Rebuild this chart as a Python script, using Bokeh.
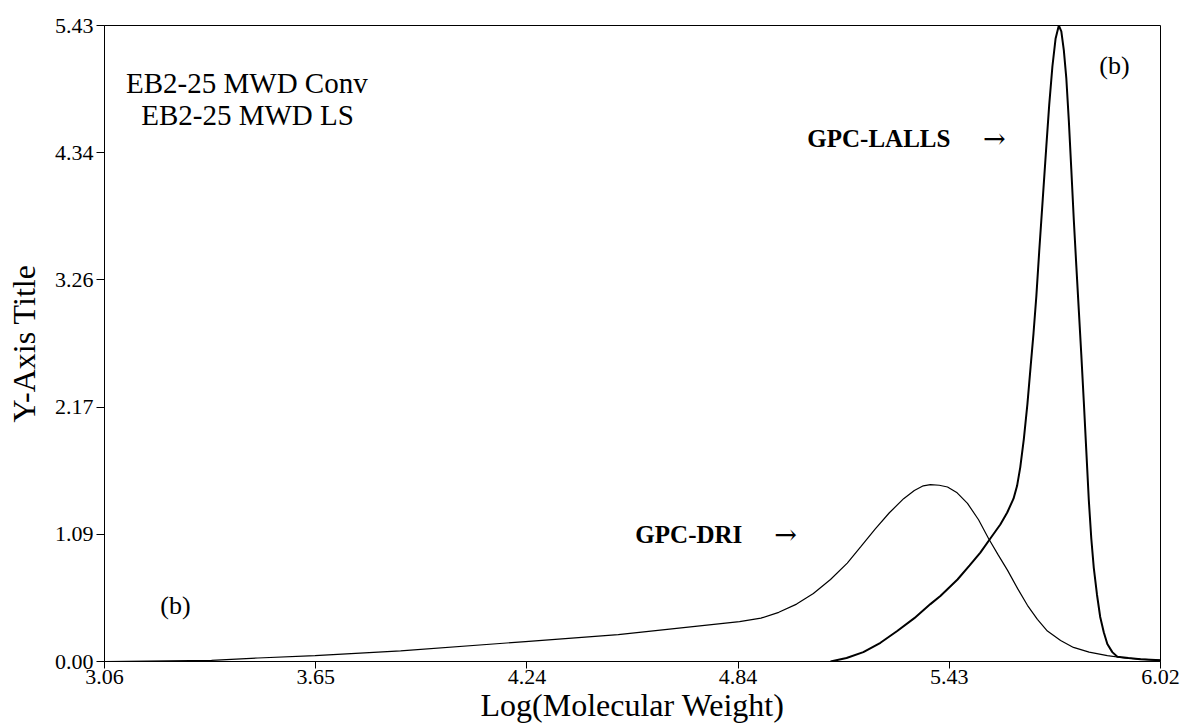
from bokeh.plotting import figure
from bokeh.models import Range1d, FixedTicker, Label
from bokeh.embed import file_html
from bokeh.resources import INLINE

# ---- data ----
x_min, x_max = 3.06, 6.02
y_min, y_max = 0.0, 5.43
x_tick_labels = ["3.06", "3.65", "4.24", "4.84", "5.43", "6.02"]
y_tick_labels = ["0.00", "1.09", "2.17", "3.26", "4.34", "5.43"]

dri_x = [3.06, 3.36, 3.49, 3.65, 3.89, 4.24, 4.50, 4.84, 4.90, 4.95, 5.00, 5.047,
         5.095, 5.142, 5.18, 5.22, 5.26, 5.30, 5.33, 5.355, 5.375, 5.400, 5.423, 5.450,
         5.479, 5.510, 5.538, 5.565, 5.591, 5.620, 5.647, 5.675, 5.703, 5.740, 5.776,
         5.820, 5.871, 5.920, 5.964, 6.02]
dri_y = [0.00, 0.01, 0.03, 0.05, 0.09, 0.17, 0.23, 0.34, 0.37, 0.42, 0.49, 0.58,
         0.70, 0.84, 0.98, 1.13, 1.27, 1.39, 1.46, 1.50, 1.51, 1.505, 1.49, 1.44,
         1.35, 1.21, 1.05, 0.91, 0.78, 0.62, 0.48, 0.36, 0.26, 0.18, 0.12,
         0.08, 0.05, 0.03, 0.02, 0.01]

lalls_x = [5.095, 5.14, 5.187, 5.235, 5.282, 5.330, 5.375, 5.403, 5.451, 5.485, 5.515,
           5.543, 5.571, 5.590, 5.608, 5.618, 5.627, 5.637, 5.647, 5.656, 5.664, 5.672,
           5.680, 5.690, 5.700, 5.708, 5.717, 5.726, 5.735, 5.742, 5.749, 5.756, 5.763,
           5.770, 5.777, 5.784, 5.791, 5.798, 5.805, 5.812, 5.819, 5.826, 5.833, 5.842,
           5.851, 5.861, 5.871, 5.885, 5.899, 5.930, 5.964, 6.02]
lalls_y = [0.00, 0.03, 0.08, 0.16, 0.26, 0.37, 0.49, 0.56, 0.70, 0.82, 0.93,
           1.05, 1.17, 1.27, 1.39, 1.50, 1.66, 1.90, 2.20, 2.52, 2.80, 3.12,
           3.50, 3.95, 4.40, 4.75, 5.08, 5.32, 5.43, 5.38, 5.22, 4.98, 4.62,
           4.20, 3.77, 3.38, 3.00, 2.62, 2.22, 1.80, 1.38, 1.05, 0.80, 0.57,
           0.38, 0.25, 0.15, 0.08, 0.04, 0.03, 0.02, 0.01]

title_lines = ["EB2-25 MWD Conv", "EB2-25 MWD LS"]
x_title = "Log(Molecular Weight)"
y_title = "Y-Axis Title"

SERIF = "Liberation Serif"

p = figure(width=1184, height=725,
           x_range=Range1d(x_min, x_max), y_range=Range1d(y_min, y_max),
           output_backend="svg", toolbar_location=None,
           min_border_left=104, min_border_right=24,
           min_border_top=25, min_border_bottom=64)

p.background_fill_color = "white"
p.border_fill_color = "white"
p.outline_line_color = "black"
p.outline_line_width = 1
p.xgrid.visible = False
p.ygrid.visible = False

n = len(x_tick_labels) - 1
xt = [x_min + (x_max - x_min) * i / n for i in range(n + 1)]
yt = [y_min + (y_max - y_min) * i / n for i in range(n + 1)]
p.xaxis.ticker = FixedTicker(ticks=xt)
p.yaxis.ticker = FixedTicker(ticks=yt)
p.xaxis.major_label_overrides = {t: l for t, l in zip(xt, x_tick_labels)}
p.yaxis.major_label_overrides = {t: l for t, l in zip(yt, y_tick_labels)}

for ax in (p.xaxis, p.yaxis):
    ax.axis_line_color = "black"
    ax.axis_line_width = 1
    ax.major_tick_line_color = "black"
    ax.major_tick_in = 0
    ax.major_tick_out = 8
    ax.minor_tick_line_color = None
    ax.major_label_text_font = SERIF
    ax.major_label_text_font_size = "22px"
    ax.major_label_text_color = "black"
    ax.axis_label_text_font = SERIF
    ax.axis_label_text_font_style = "normal"
    ax.axis_label_text_font_size = "32px"
    ax.axis_label_text_color = "black"

p.xaxis.axis_label = x_title
p.yaxis.axis_label = y_title
p.xaxis.major_tick_out = 7
p.xaxis.major_label_standoff = 1
p.xaxis.axis_label_standoff = 0
p.yaxis.major_label_standoff = 3
p.yaxis.axis_label_standoff = 10

p.line(dri_x, dri_y, line_color="black", line_width=1.2)
p.line(lalls_x, lalls_y, line_color="black", line_width=2)

# annotations
p.add_layout(Label(x=3.459, y=4.936, text=title_lines[0], text_align="center",
                   text_baseline="alphabetic", text_font=SERIF,
                   text_font_size="29px", text_color="black"))
p.add_layout(Label(x=3.461, y=4.663, text=title_lines[1], text_align="center",
                   text_baseline="alphabetic", text_font=SERIF,
                   text_font_size="29px", text_color="black"))
p.add_layout(Label(x=5.891, y=5.09, text="(b)", text_align="center",
                   text_baseline="middle", text_font=SERIF,
                   text_font_size="26px", text_color="black"))
p.add_layout(Label(x=3.259, y=0.478, text="(b)", text_align="center",
                   text_baseline="middle", text_font=SERIF,
                   text_font_size="26px", text_color="black"))
p.add_layout(Label(x=5.030, y=4.466, text="GPC-LALLS", text_align="left",
                   text_baseline="middle", text_font=SERIF, text_font_style="bold",
                   text_font_size="25px", text_color="black"))
p.add_layout(Label(x=5.554, y=4.466, text="\u2192", text_align="center",
                   text_baseline="middle", text_font="DejaVu Serif",
                   text_font_size="27px", text_color="black"))
p.add_layout(Label(x=4.548, y=1.085, text="GPC-DRI", text_align="left",
                   text_baseline="middle", text_font=SERIF, text_font_style="bold",
                   text_font_size="25px", text_color="black"))
p.add_layout(Label(x=4.969, y=1.085, text="\u2192", text_align="center",
                   text_baseline="middle", text_font="DejaVu Serif",
                   text_font_size="27px", text_color="black"))

open("out.html", "w").write(file_html(p, INLINE))
